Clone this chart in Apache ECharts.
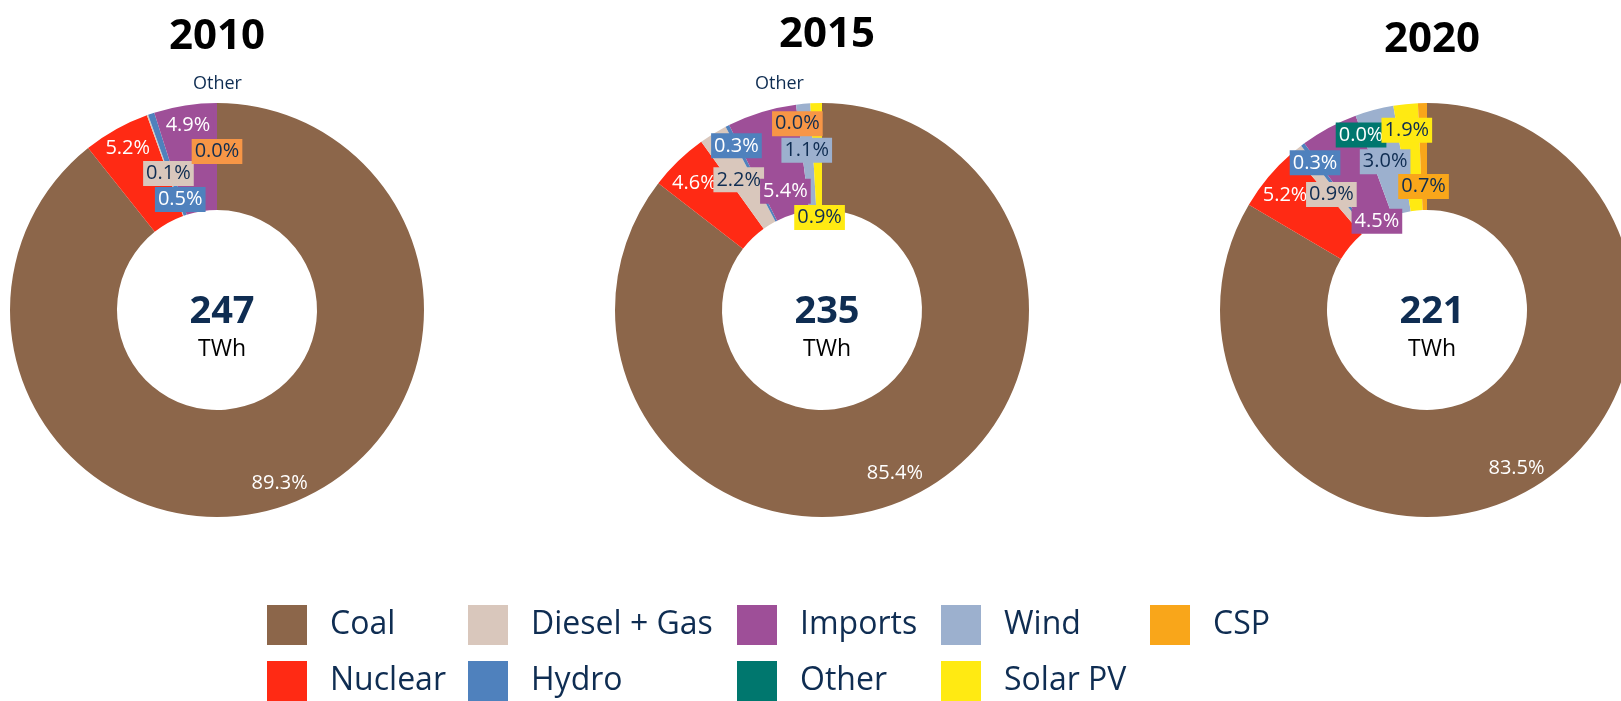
<!DOCTYPE html>
<html>
<head>
<meta charset="utf-8">
<script src="https://cdn.jsdelivr.net/npm/echarts@6/dist/echarts.min.js"></script>
<style>
  html, body { margin: 0; padding: 0; background: #fff; }
  #chart { width: 1621px; height: 701px; }
</style>
</head>
<body>
<div id="chart"></div>
<script>
// data
const years = ['2010', '2015', '2020'];
const totals = [247, 235, 221];
const fuels = ['Coal', 'Nuclear', 'Diesel + Gas', 'Hydro', 'Imports', 'Other', 'Wind', 'Solar PV', 'CSP'];
const share2010 = [89.3, 5.2, 0.1, 0.5, 4.9, 0.0];
const share2015 = [85.4, 4.6, 2.2, 0.3, 5.4, 0.0, 1.1, 0.9];
const share2020 = [83.5, 5.2, 0.9, 0.3, 4.5, 0.0, 3.0, 1.9, 0.7];
const shares = [share2010, share2015, share2020];

// styling
const navy = '#0F2D52';
const fuelColor = {
  'Coal': '#8C664A', 'Nuclear': '#FF2A14', 'Diesel + Gas': '#D9C7BC', 'Hydro': '#4F81BD',
  'Imports': '#9E4F98', 'Other': '#00776E', 'Wind': '#9CB0CE', 'Solar PV': '#FFEA12', 'CSP': '#F9A61A'
};
const oldOtherColor = '#F79646'; // "Other" was drawn orange in 2010 / 2015
const whiteText = ['Coal', 'Nuclear', 'Hydro', 'Imports'];
const noBox = ['Coal', 'Nuclear'];
const centersX = [217, 822, 1427];
const centerY = 310;
const titleX = [212, 822, 1427];
const titleTop = [9, 7, 12];

// hand placed label nudges (like the excel original)
const labelShift = [
  [[11, 26], [-13, -25], [4, 11], [13, 38], [-5, -30], [0, -2]],
  [[4, 23], [-19, -14], [-1, 3], [-14, -25], [9, 31], [-5, -31], [-1, -4], [2, 64]],
  [[12, 22], [-22, -14], [3, 6], [-18, -22], [24, 49], [-12, -28], [-2, 3], [-4, -24], [0, 33]]
];

const chart = echarts.init(document.getElementById('chart'));

const series = years.map((y, i) => ({
  type: 'pie',
  name: y,
  center: [centersX[i], centerY],
  radius: [100, 207],
  startAngle: 90,
  clockwise: true,
  animation: false,
  emphasis: { disabled: true },
  label: {
    show: true,
    position: 'inside',
    fontFamily: 'Open Sans',
    fontSize: 20,
    lineHeight: 21,
    padding: [2, 3],
    formatter: p => p.value.toFixed(1) + '%'
  },
  labelLayout: p => ({ dx: labelShift[i][p.dataIndex][0], dy: labelShift[i][p.dataIndex][1] }),
  data: shares[i].map((v, j) => {
    const name = fuels[j];
    let c = fuelColor[name];
    if (name === 'Other' && i < 2) c = oldOtherColor;
    const light = !(whiteText.includes(name) || (name === 'Other' && i === 2));
    return {
      name: name,
      value: v,
      itemStyle: { color: c },
      label: {
        color: light ? navy : '#fff',
        backgroundColor: noBox.includes(name) ? 'transparent' : c
      }
    };
  })
}));

const titles = [];
years.forEach((y, i) => {
  titles.push({
    text: y, left: titleX[i], top: titleTop[i], textAlign: 'center',
    textStyle: { fontFamily: 'Open Sans', fontWeight: 'bold', fontSize: 42, color: '#000', lineHeight: 46 }
  });
  titles.push({
    text: String(totals[i]), subtext: 'TWh', left: centersX[i], top: centerY - 24, textAlign: 'center', itemGap: 2,
    textStyle: { fontFamily: 'Open Sans', fontWeight: 'bold', fontSize: 38, color: navy, lineHeight: 42 },
    subtextStyle: { fontFamily: 'Open Sans', fontSize: 23, color: '#000', lineHeight: 28 }
  });
});

const legendCols = [['Coal', 'Nuclear'], ['Diesel + Gas', 'Hydro'], ['Imports', 'Other'], ['Wind', 'Solar PV'], ['CSP']];
const legendLeft = [267, 468, 737, 941, 1150];
const legends = legendCols.map((col, k) => ({
  orient: 'vertical',
  left: legendLeft[k],
  top: 605,
  height: 160,
  padding: 0,
  icon: 'rect',
  itemWidth: 40,
  itemHeight: 40,
  itemGap: 16,
  selectedMode: false,
  textStyle: { fontFamily: 'Open Sans', fontSize: 32, color: navy, padding: [7, 0, 0, 18] },
  data: col.map(n => ({ name: n, itemStyle: { color: fuelColor[n] } }))
}));

chart.setOption({
  animation: false,
  title: titles,
  legend: legends,
  graphic: [
    { type: 'text', left: 218 - 25, top: 75, style: { text: 'Other', fontFamily: 'Open Sans', fontSize: 18, fill: navy } },
    { type: 'text', left: 780 - 25, top: 75, style: { text: 'Other', fontFamily: 'Open Sans', fontSize: 18, fill: navy } }
  ],
  series: series
});
</script>
</body>
</html>
